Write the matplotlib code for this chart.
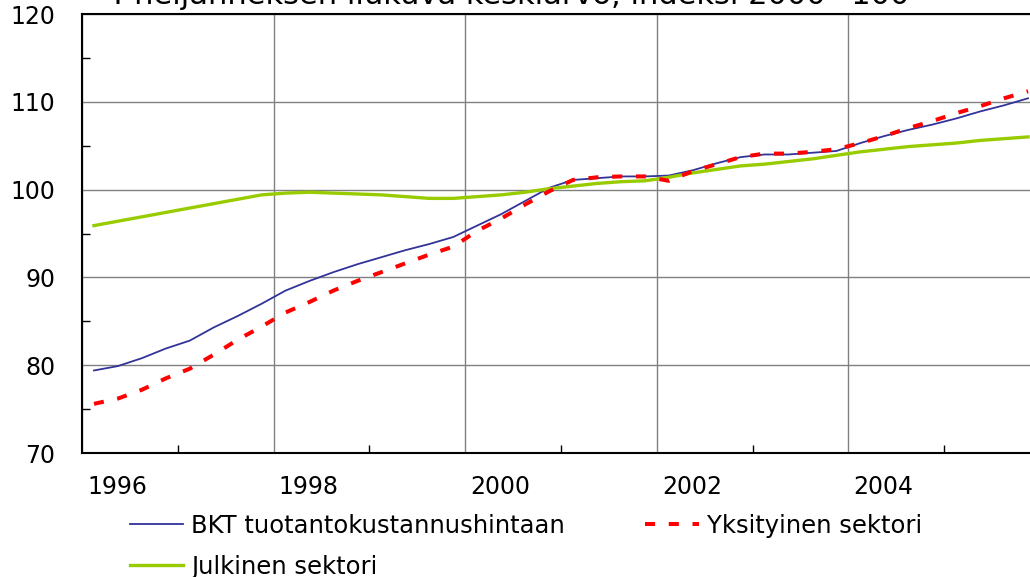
import numpy as np
import matplotlib
matplotlib.use("Agg")
import matplotlib.pyplot as plt
import matplotlib.transforms as mtransforms

plt.rcParams['font.family'] = ['DejaVu Sans']

# neljännesvuodet 1996Q1 ... 2005Q4
years = np.arange(1996, 2006)
quarters = [1, 2, 3, 4]

bkt = [79.4, 79.9, 80.8, 81.9, 82.8, 84.3, 85.6, 87.0,
       88.5, 89.6, 90.6, 91.5, 92.3, 93.1, 93.8, 94.6,
       95.9, 97.2, 98.7, 100.2, 101.1, 101.3, 101.5, 101.5,
       101.6, 102.2, 103.0, 103.7, 104.0, 104.0, 104.2, 104.4,
       105.3, 106.1, 106.8, 107.4, 108.1, 108.9, 109.6, 110.4]

yksityinen = [75.6, 76.2, 77.2, 78.5, 79.6, 81.2, 82.9, 84.4,
              86.0, 87.2, 88.5, 89.6, 90.6, 91.6, 92.6, 93.5,
              95.3, 96.7, 98.3, 99.8, 101.1, 101.4, 101.5, 101.5,
              101.0, 102.1, 102.9, 103.7, 104.1, 104.1, 104.3, 104.6,
              105.3, 106.1, 107.0, 107.8, 108.7, 109.5, 110.4, 111.2]

julkinen = [95.9, 96.4, 96.9, 97.4, 97.9, 98.4, 98.9, 99.4,
            99.6, 99.7, 99.6, 99.5, 99.4, 99.2, 99.0, 99.0,
            99.2, 99.4, 99.7, 100.1, 100.4, 100.7, 100.9, 101.0,
            101.4, 101.9, 102.3, 102.7, 102.9, 103.2, 103.5, 103.9,
            104.3, 104.6, 104.9, 105.1, 105.3, 105.6, 105.8, 106.0]

year_labels = ['1996', '1998', '2000', '2002', '2004']
title = '4 neljänneksen liukuva keskiarvo, indeksi 2000=100'

# aika-akseli: neljänneksen keskikohta
t = np.array([y + (q - 0.5) / 4 for y in years for q in quarters])

fig = plt.figure(figsize=(10.30, 5.77), dpi=100)
ax = fig.add_axes([82 / 1030, 1 - 453 / 577, 958 / 1030, 439 / 577])

ax.plot(t, bkt, color='#333399', linewidth=1.3, label='BKT tuotantokustannushintaan', zorder=3)
ax.plot(t, julkinen, color='#99cc00', linewidth=2.4, label='Julkinen sektori', zorder=3)
ax.plot(t, yksityinen, color='#ff0000', linewidth=2.9, dashes=(2.5, 3.4),
        label='Yksityinen sektori', zorder=4)

ax.set_xlim(1996, 2006)
ax.set_ylim(70, 120)

ax.set_yticks(np.arange(70, 121, 10))
ax.set_yticks(np.arange(75, 120, 10), minor=True)
ax.set_xticks([int(s) for s in year_labels])
ax.set_xticklabels(year_labels)
ax.set_xticks(np.arange(1997, 2006, 2), minor=True)

ax.grid(True, which='major', color='#808080', linewidth=1.0)
ax.set_axisbelow(True)

ax.tick_params(which='major', length=0, labelsize=17)
ax.tick_params(axis='y', which='major', pad=19)
ax.tick_params(axis='x', which='major', pad=16)
ax.tick_params(which='minor', direction='in', length=6, width=1, color='#000000')

offset = mtransforms.ScaledTranslation(5 / 100, 0, fig.dpi_scale_trans)
for lab in ax.get_xticklabels():
    lab.set_horizontalalignment('left')
    lab.set_transform(lab.get_transform() + offset)

for side in ['left', 'bottom', 'top']:
    ax.spines[side].set_color('black')
    ax.spines[side].set_linewidth(1.5)
ax.spines['right'].set_visible(False)

# otsikko jää kuvan yläreunaan osittain piiloon kuten alkuperäisessä
fig.text(105 / 1030, 1 - 4 / 577, title, fontsize=22, va='baseline', ha='left')

fig.legend(loc='upper left', bbox_to_anchor=(130 / 1030, 1 - 514 / 577), ncol=2,
           frameon=False, fontsize=17.5, handlelength=2.2, handletextpad=0.33,
           columnspacing=3.3, labelspacing=0.68, borderpad=0, borderaxespad=0)

fig.savefig('out.png', dpi=100)
plt.close(fig)
